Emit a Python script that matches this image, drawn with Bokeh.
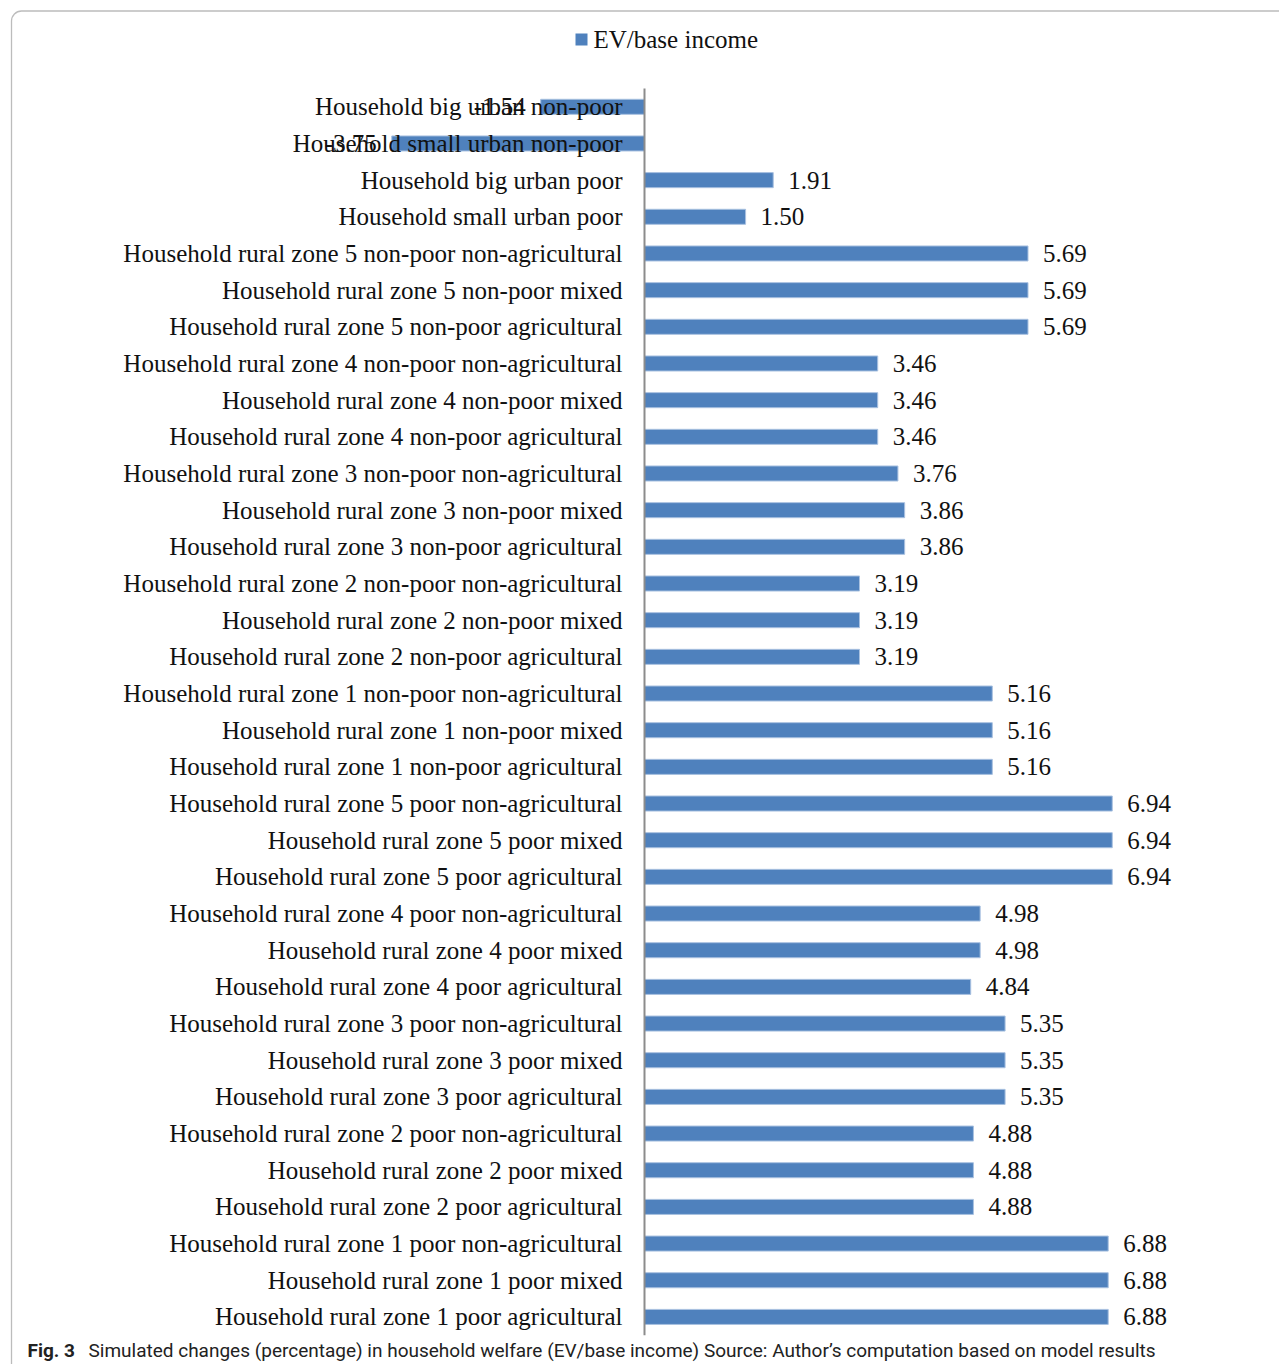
from bokeh.plotting import figure
from bokeh.models import ColumnDataSource, Range1d, BoxAnnotation, Label
from bokeh.core.properties import value
from bokeh.embed import file_html
from bokeh.resources import INLINE

categories = [
    "Household big urban non-poor",
    "Household small urban non-poor",
    "Household big urban poor",
    "Household small urban poor",
    "Household rural zone 5 non-poor non-agricultural",
    "Household rural zone 5 non-poor mixed",
    "Household rural zone 5 non-poor agricultural",
    "Household rural zone 4 non-poor non-agricultural",
    "Household rural zone 4 non-poor mixed",
    "Household rural zone 4 non-poor agricultural",
    "Household rural zone 3 non-poor non-agricultural",
    "Household rural zone 3 non-poor mixed",
    "Household rural zone 3 non-poor agricultural",
    "Household rural zone 2 non-poor non-agricultural",
    "Household rural zone 2 non-poor mixed",
    "Household rural zone 2 non-poor agricultural",
    "Household rural zone 1 non-poor non-agricultural",
    "Household rural zone 1 non-poor mixed",
    "Household rural zone 1 non-poor agricultural",
    "Household rural zone 5 poor non-agricultural",
    "Household rural zone 5 poor mixed",
    "Household rural zone 5 poor agricultural",
    "Household rural zone 4 poor non-agricultural",
    "Household rural zone 4 poor mixed",
    "Household rural zone 4 poor agricultural",
    "Household rural zone 3 poor non-agricultural",
    "Household rural zone 3 poor mixed",
    "Household rural zone 3 poor agricultural",
    "Household rural zone 2 poor non-agricultural",
    "Household rural zone 2 poor mixed",
    "Household rural zone 2 poor agricultural",
    "Household rural zone 1 poor non-agricultural",
    "Household rural zone 1 poor mixed",
    "Household rural zone 1 poor agricultural",
]
ev_base_income = [
    -1.54, -3.75, 1.91, 1.50,
    5.69, 5.69, 5.69,
    3.46, 3.46, 3.46,
    3.76, 3.86, 3.86,
    3.19, 3.19, 3.19,
    5.16, 5.16, 5.16,
    6.94, 6.94, 6.94,
    4.98, 4.98, 4.84,
    5.35, 5.35, 5.35,
    4.88, 4.88, 4.88,
    6.88, 6.88, 6.88,
]
series_name = "EV/base income"
caption_bold = "Fig. 3"
caption_text = "Simulated changes (percentage) in household welfare (EV/base income) Source: Author\u2019s computation based on model results"

# layout constants (screenshot pixel geometry)
W, H = 1279, 1364
OFF = 0
ZERO_PX = 644.0      # x of value 0
PX_PER_UNIT = 67.4   # px per percentage point
ROW0_PX = 106.3      # y of first category
ROW_PX = 36.67       # px per category row

def xd(px):
    return (px - ZERO_PX) / PX_PER_UNIT

def yd(py):
    return (py - ROW0_PX) / ROW_PX

SERIF = value("Liberation Serif")
BLUE = "#4F81BD"

p = figure(width=W, height=H, output_backend="svg", toolbar_location=None,
           x_axis_type=None, y_axis_type=None,
           x_range=Range1d(xd(OFF), xd(OFF + W)),
           y_range=Range1d(yd(OFF + H), yd(OFF)),
           min_border=0, min_border_left=0, min_border_right=0,
           min_border_top=0, min_border_bottom=0)
p.grid.visible = False
p.outline_line_color = None
p.background_fill_color = "white"
p.border_fill_color = "white"

n = len(categories)
rows = list(range(n))
src = ColumnDataSource(dict(
    cat=categories,
    val=ev_base_income,
    row=rows,
    lbl=[f"{v:.2f}" for v in ev_base_income],
    align=["left" if v >= 0 else "right" for v in ev_base_income],
    off=[15 if v >= 0 else -15 for v in ev_base_income],
))

# frame border
p.add_layout(BoxAnnotation(left=xd(11), right=xd(1300), top=yd(10.5), bottom=yd(1400),
                           fill_alpha=0, line_color="#222222", line_width=1.3,
                           border_radius=10))

# bars
p.hbar(y="row", left=0, right="val", height=0.41, source=src,
       fill_color=BLUE, line_color="#A9C1E0", line_width=1)

# zero axis line
p.segment(x0=[0], x1=[0], y0=[-0.5], y1=[n - 0.5], line_color="#8C8C8C", line_width=2)

# category labels
p.text(x=0, y="row", text="cat", source=src, x_offset=-22,
       text_align="right", text_baseline="middle",
       text_font=SERIF, text_font_size=value("25px"), text_color="#111111")

# value labels
p.text(x="val", y="row", text="lbl", source=src, x_offset="off",
       text_align="align", text_baseline="middle",
       text_font=SERIF, text_font_size=value("25px"), text_color="#111111")

# legend (manual to match placement)
p.add_layout(BoxAnnotation(left=xd(575), right=xd(587), top=yd(33), bottom=yd(45),
                           fill_color=BLUE, fill_alpha=1, line_color=None))
p.add_layout(Label(x=xd(593), y=yd(39), text=series_name, text_align="left",
                   text_baseline="middle", text_font="Liberation Serif",
                   text_font_size="25px", text_color="#111111"))

# caption
p.add_layout(Label(x=xd(27), y=yd(1350), text=caption_bold, text_align="left",
                   text_baseline="middle", text_font="Roboto", text_font_style="bold",
                   text_font_size="19px", text_color="#222222"))
p.add_layout(Label(x=xd(88), y=yd(1350), text=caption_text, text_align="left",
                   text_baseline="middle", text_font="Roboto",
                   text_font_size="19px", text_color="#222222"))

open("out.html", "w").write(file_html(p, INLINE))
